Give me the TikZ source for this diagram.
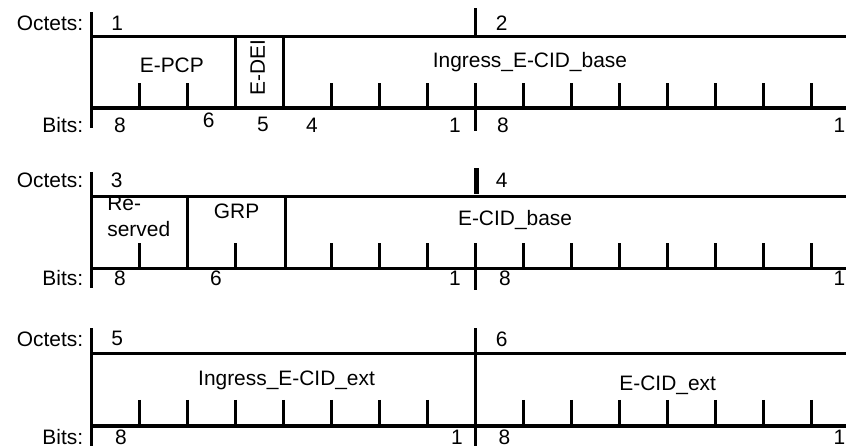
\documentclass[tikz,border=0pt]{standalone}
\usepackage{fontspec}
\setmainfont{Liberation Sans}

\begin{document}
\begin{tikzpicture}[
	bar/.style = {line width = 2pt},
	txt/.style = {inner sep = 0pt, font = \fontsize{12.4}{15.3}\selectfont},
	]
	\path [use as bounding box, clip] (-1.91, 0) rectangle (15.715, -9.333);

	% 第一行 octets 1, 2
	% frame
	\draw [bar] (0, -.25) -- (0, -2.67);
	\draw [bar] (0, -.765) -- (16, -.765);
	\draw [bar] (0, -2.25) -- (16, -2.25);
	\draw [bar] (3, -.765) -- (3, -2.25);
	\draw [bar] (4, -.765) -- (4, -2.25);
	% ticks
	\draw [bar] (1, -1.73) -- (1, -2.25) (2, -1.73) -- (2, -2.25);
	\draw [bar] (5, -1.73) -- (5, -2.25) (6, -1.73) -- (6, -2.25) (7, -1.73) -- (7, -2.25);
	\draw [bar] (9, -1.73) -- (9, -2.25) (10, -1.73) -- (10, -2.25) (11, -1.73) -- (11, -2.25)
		(12, -1.73) -- (12, -2.25) (13, -1.73) -- (13, -2.25) (14, -1.73) -- (14, -2.25)
		(15, -1.73) -- (15, -2.25);
	% octet mark
	\draw [bar] (8, -.17) -- (8, -.765);
	\draw [bar] (8, -1.73) -- (8, -2.73);
	% texts
	\node [txt, anchor = east] (oct1) at (-.17, -.48) {Octets:};
	\node [txt] (o1) at (.53, -.48) {1};
	\node [txt] (o2) at (8.54, -.48) {2};
	\node [txt] (epcp) at (1.67, -1.35) {E-PCP};
	\node [txt, rotate = 90] (edei) at (3.46, -1.41) {E-DEI};
	\node [txt] (ingbase) at (9.13, -1.29) {Ingress\_E-CID\_base};
	\node [txt, anchor = east] (bits1) at (-.17, -2.6) {Bits:};
	\node [txt] (b1a) at (.59, -2.6) {8};
	\node [txt] (b1b) at (2.44, -2.5) {6};
	\node [txt] (b1c) at (3.57, -2.6) {5};
	\node [txt] (b1d) at (4.59, -2.6) {4};
	\node [txt] (b1e) at (7.57, -2.6) {1};
	\node [txt] (b1f) at (8.57, -2.6) {8};
	\node [txt] (b1g) at (15.58, -2.6) {1};

	% 第二行 octets 3, 4
	% frame
	\draw [bar] (0, -3.58) -- (0, -6.0);
	\draw [bar] (0, -4.1) -- (16, -4.1);
	\draw [bar] (0, -5.59) -- (16, -5.59);
	\draw [bar] (2, -4.1) -- (2, -5.59);
	\draw [bar] (4.04, -4.1) -- (4.04, -5.59);
	% ticks
	\draw [bar] (1, -5.07) -- (1, -5.59) (3, -5.07) -- (3, -5.59);
	\draw [bar] (5, -5.07) -- (5, -5.59) (6, -5.07) -- (6, -5.59) (7, -5.07) -- (7, -5.59);
	\draw [bar] (9, -5.07) -- (9, -5.59) (10, -5.07) -- (10, -5.59) (11, -5.07) -- (11, -5.59)
		(12, -5.07) -- (12, -5.59) (13, -5.07) -- (13, -5.59) (14, -5.07) -- (14, -5.59)
		(15, -5.07) -- (15, -5.59);
	% octet mark
	\draw [line width = 3pt] (8.02, -3.5) -- (8.02, -4.05);
	\draw [bar] (8, -5.07) -- (8, -6.04);
	% texts
	\node [txt, anchor = east] (oct2) at (-.17, -3.75) {Octets:};
	\node [txt] (o3) at (.52, -3.75) {3};
	\node [txt] (o4) at (8.54, -3.75) {4};
	\node [txt, anchor = west, align = left] (resv) at (.32, -4.5) {Re-\\served};
	\node [txt] (grp) at (3.02, -4.41) {GRP};
	\node [txt] (ecidbase) at (8.82, -4.58) {E-CID\_base};
	\node [txt, anchor = east] (bits2) at (-.17, -5.79) {Bits:};
	\node [txt] (b2a) at (.59, -5.79) {8};
	\node [txt] (b2b) at (2.59, -5.79) {6};
	\node [txt] (b2c) at (7.57, -5.79) {1};
	\node [txt] (b2d) at (8.61, -5.79) {8};
	\node [txt] (b2e) at (15.58, -5.79) {1};

	% 第三行 octets 5, 6
	% frame
	\draw [bar] (0, -6.84) -- (0, -9.3);
	\draw [bar] (0, -7.36) -- (16, -7.36);
	\draw [bar] (0, -8.875) -- (16, -8.875);
	\draw [bar] (8, -6.84) -- (8, -9.3);
	% ticks
	\draw [bar] (1, -8.33) -- (1, -8.875) (2, -8.33) -- (2, -8.875) (3, -8.33) -- (3, -8.875)
		(4, -8.33) -- (4, -8.875) (5, -8.33) -- (5, -8.875) (6, -8.33) -- (6, -8.875)
		(7, -8.33) -- (7, -8.875);
	\draw [bar] (9, -8.33) -- (9, -8.875) (10, -8.33) -- (10, -8.875) (11, -8.33) -- (11, -8.875)
		(12, -8.33) -- (12, -8.875) (13, -8.33) -- (13, -8.875) (14, -8.33) -- (14, -8.875)
		(15, -8.33) -- (15, -8.875);
	% texts
	\node [txt, anchor = east] (oct3) at (-.17, -7.06) {Octets:};
	\node [txt] (o5) at (.53, -7.06) {5};
	\node [txt] (o6) at (8.54, -7.06) {6};
	\node [txt] (ingext) at (4.06, -7.92) {Ingress\_E-CID\_ext};
	\node [txt] (ecidext) at (12.0, -8.02) {E-CID\_ext};
	\node [txt, anchor = east] (bits3) at (-.17, -9.1) {Bits:};
	\node [txt] (b3a) at (.61, -9.1) {8};
	\node [txt] (b3b) at (7.61, -9.1) {1};
	\node [txt] (b3c) at (8.6, -9.1) {8};
	\node [txt] (b3d) at (15.58, -9.1) {1};
\end{tikzpicture}
\end{document}
